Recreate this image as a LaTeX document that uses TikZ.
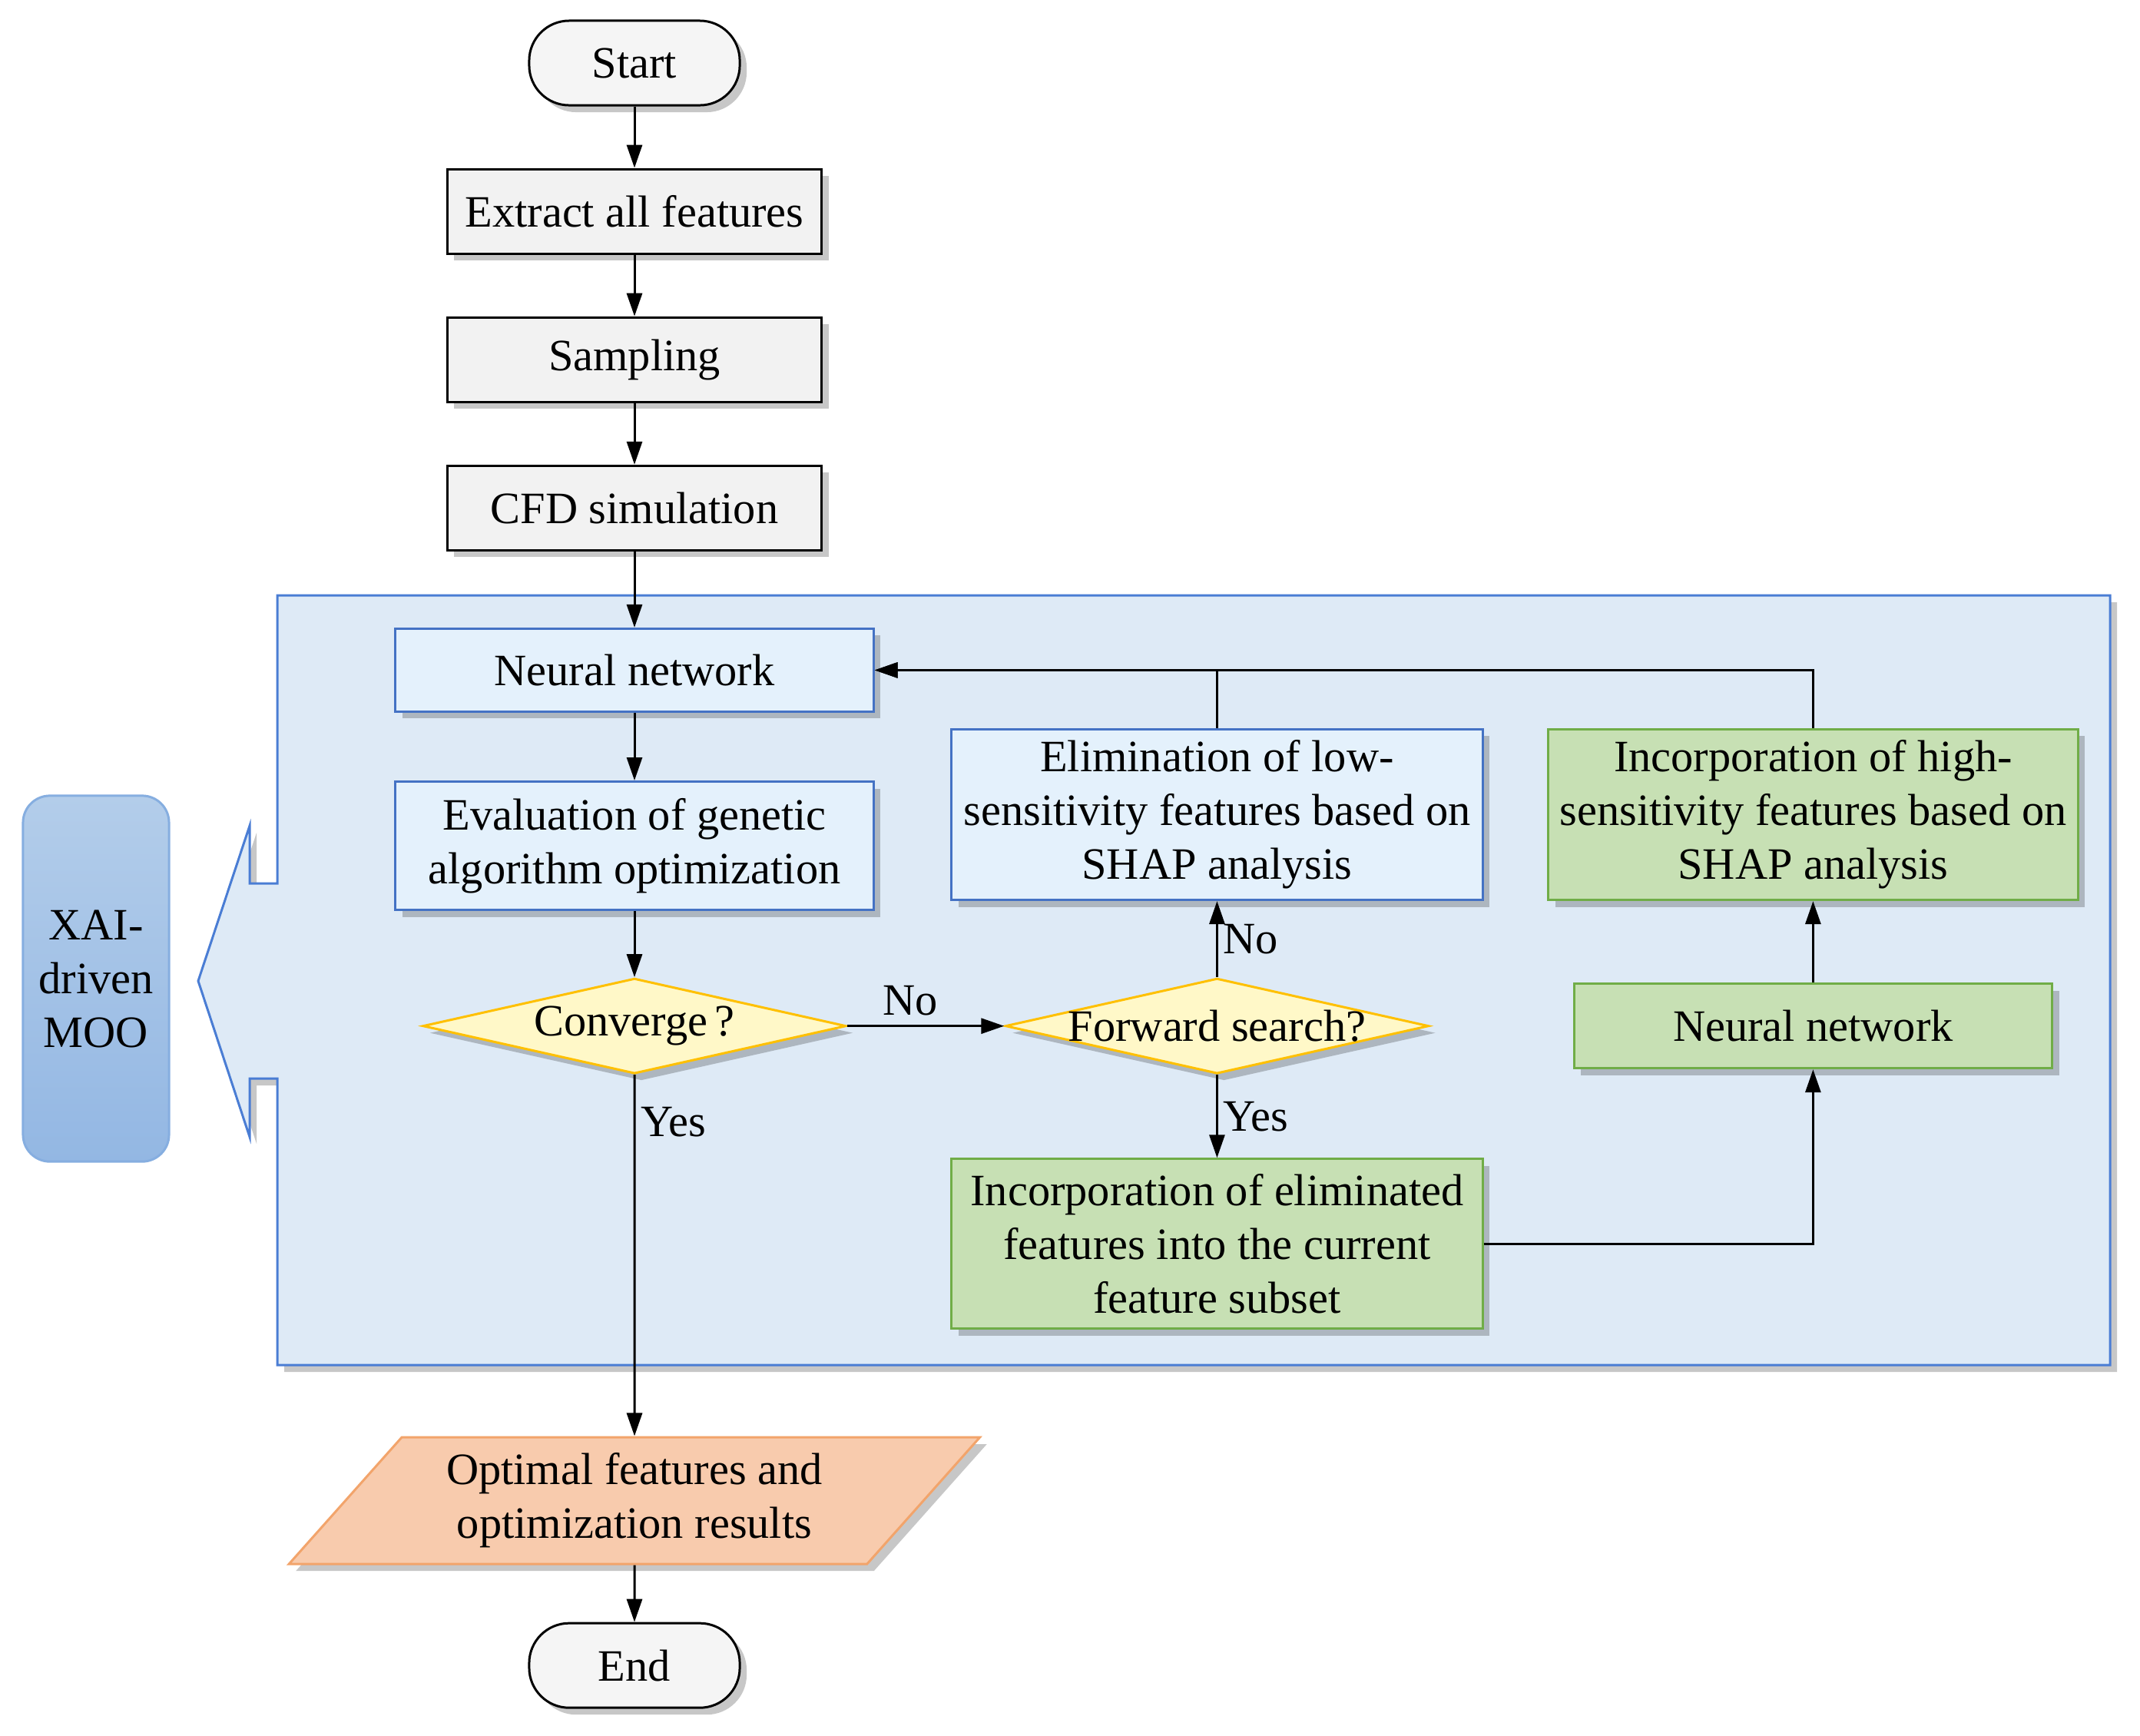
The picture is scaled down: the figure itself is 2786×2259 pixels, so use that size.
\documentclass[tikz,border=0pt]{standalone}
\usepackage{fontspec}
\setmainfont{Liberation Serif}
\usetikzlibrary{positioning,shapes.geometric,shadows,arrows.meta}
\definecolor{termfill}{HTML}{F5F5F5}
\definecolor{procfill}{HTML}{F2F2F2}
\definecolor{framefill}{HTML}{DEEAF6}
\definecolor{frameline}{HTML}{4A7DD4}
\definecolor{bluefill}{HTML}{E4F1FC}
\definecolor{blueline}{HTML}{4472C4}
\definecolor{greenfill}{HTML}{C7E0B4}
\definecolor{greenline}{HTML}{70AD47}
\definecolor{diafill}{HTML}{FFF8C8}
\definecolor{dialine}{HTML}{FFC000}
\definecolor{outfill}{HTML}{F8CBAD}
\definecolor{outline}{HTML}{F2A46B}
\definecolor{xaitop}{HTML}{B3CDEA}
\definecolor{xaibot}{HTML}{93B7E3}
\definecolor{xailine}{HTML}{86AEE0}
\begin{document}
\begin{tikzpicture}[x=0.01cm, y=-0.01cm, node distance=0.8cm, >={Triangle[length=3mm,width=2mm]},
    line width=0.85pt, font=\fontsize{16.6}{19.9}\selectfont,
    boxshadow/.style={drop shadow={shadow xshift=0.09cm, shadow yshift=-0.09cm, fill=black, opacity=0.22}},
    terminal/.style={draw, fill=termfill, rounded corners=0.52cm, minimum width=2.74cm, minimum height=1.1cm, boxshadow},
    procbox/.style={draw, fill=procfill, minimum width=4.87cm, minimum height=1.1cm, boxshadow},
    bluebox/.style={draw=blueline, fill=bluefill, align=center, minimum width=6.22cm, minimum height=1.08cm, boxshadow},
    greenbox/.style={draw=greenline, fill=greenfill, align=center, minimum width=6.22cm, minimum height=1.1cm, boxshadow},
    decision/.style={diamond, draw=dialine, fill=diafill, aspect=4.4, inner sep=0pt, minimum width=5.51cm, minimum height=1.24cm, boxshadow},
    outbox/.style={trapezium, trapezium left angle=45, trapezium right angle=135, trapezium stretches body,
        draw=outline, fill=outfill, align=center, minimum width=8.99cm, minimum height=1.65cm, boxshadow}]
    \useasboundingbox (0,0) rectangle (2786,2259);

    % 外框
    \draw[frameline, fill=framefill, boxshadow] (361,775) -- (2747,775) -- (2747,1777) -- (361,1777) -- (361,1404)
        -- (325,1404) -- (325,1480) -- (258,1277) -- (325,1075) -- (325,1150) -- (361,1150) -- cycle;
    \node[draw=xailine, top color=xaitop, bottom color=xaibot, rounded corners=0.35cm, align=center,
        minimum width=1.9cm, minimum height=4.76cm] (xai) at (125,1274) {XAI-\\driven\\MOO};

    % 主流程
    \node[terminal] (start) at (826,82) {Start};
    \node[procbox, below=of start] (extract) {Extract all features};
    \node[procbox, below=of extract] (sampling) {Sampling};
    \node[procbox, below=of sampling] (cfd) {CFD simulation};
    \node[bluebox, below=0.99cm of cfd] (nn) {Neural network};
    \node[bluebox, below=0.88cm of nn, minimum height=1.67cm] (eval) {Evaluation of genetic\\algorithm optimization};
    \node[decision, below=0.86cm of eval] (conv) {\makebox[0pt]{Converge\,?}};
    \node[outbox, below=4.7cm of conv] (result) {Optimal features and\\optimization results};
    \node[terminal, below=0.74cm of result] (end) {End};

    % 特征选择
    \node[decision, right=2.04cm of conv] (fwd) {\makebox[0pt]{Forward search?}};
    \node[bluebox, above=0.99cm of fwd, minimum width=6.91cm, minimum height=2.22cm] (elim)
        {Elimination of low-\\sensitivity features based on\\SHAP analysis};
    \node[greenbox, below=1.08cm of fwd, minimum width=6.91cm, minimum height=2.21cm] (incelim)
        {Incorporation of eliminated\\features into the current\\feature subset};
    \node[greenbox, right=1.86cm of fwd] (nn2) {Neural network};
    \node[greenbox, above=1.06cm of nn2, minimum width=6.89cm, minimum height=2.22cm] (inchigh)
        {Incorporation of high-\\sensitivity features based on\\SHAP analysis};

    % 连线
    \draw[->] (start) -- (extract);
    \draw[->] (extract) -- (sampling);
    \draw[->] (sampling) -- (cfd);
    \draw[->] (cfd) -- (nn);
    \draw[->] (nn) -- (eval);
    \draw[->] (eval) -- (conv);
    \draw[->] (conv) -- node[above, xshift=-0.2cm] {No} (fwd);
    \draw[->] (fwd) -- node[right, xshift=-0.05cm] {No} (elim);
    \draw[->] (fwd) -- node[right, xshift=-0.05cm] {Yes} (incelim);
    \draw[->] (conv) -- node[right, pos=0.13, xshift=-0.05cm] {Yes} (result);
    \draw[->] (result) -- (end);
    \draw[->] (incelim.east) -| (nn2.south);
    \draw[->] (nn2) -- (inchigh);
    \draw[->] (elim.north) |- (nn.east);
    \draw[->] (inchigh.north) |- (nn.east);
\end{tikzpicture}
\end{document}
